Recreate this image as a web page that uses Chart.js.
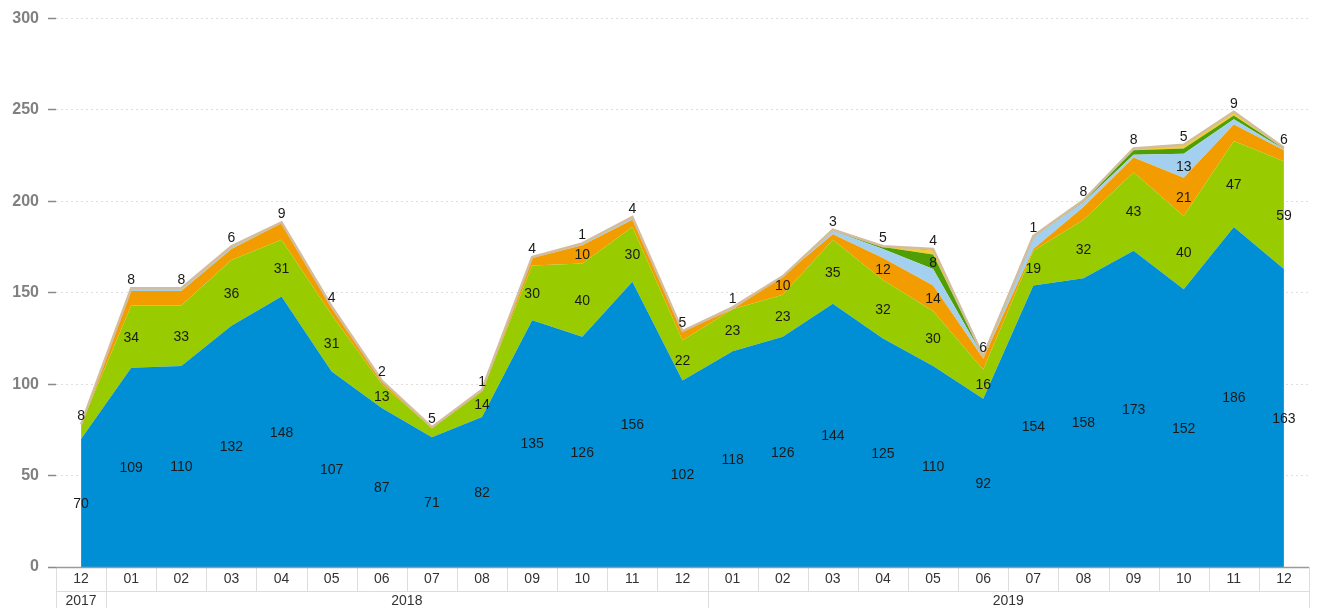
<!DOCTYPE html>
<html>
<head>
<meta charset="utf-8">
<script src="https://cdn.jsdelivr.net/npm/chart.js@4.4.1/dist/chart.umd.min.js"></script>
<style>
html,body{margin:0;padding:0;background:#fff;}
#wrap{width:1319px;height:608px;position:relative;}
</style>
</head>
<body>
<div id="wrap"><canvas id="c"></canvas></div>
<script>
const categories = ['2017-12','2018-01','2018-02','2018-03','2018-04','2018-05','2018-06','2018-07','2018-08','2018-09','2018-10','2018-11','2018-12','2019-01','2019-02','2019-03','2019-04','2019-05','2019-06','2019-07','2019-08','2019-09','2019-10','2019-11','2019-12'];

const seriesBlue      = [70,109,110,132,148,107,87,71,82,135,126,156,102,118,126,144,125,110,92,154,158,173,152,186,163];
const seriesGreen     = [8,34,33,36,31,31,13,5,14,30,40,30,22,23,23,35,32,30,16,19,32,43,40,47,59];
const seriesOrange    = [0,8,8,6,9,4,2,0.5,1,4,10,4,5,0,10,3,12,14,6,1,7,8,21,9,6];
const seriesLightBlue = [0,1.5,1.5,1.5,0.5,0.5,0,0,0,0.5,1,1.5,0,1,0,2,5,9,1,6.5,2.5,1.5,13,3,0.5];
const seriesDarkGreen = [0,0,0,0,0,0,0,0,0,0,0,0,0,0,0,0.5,1,8,0.3,0.5,0.8,2.5,3,2,0.5];
const seriesYellow    = [0,0,0,0,0,0,0,0,0,0,0,0,0,0,0,0,0.5,2,0,0,0.3,1,1.5,1.5,0.3];
const seriesRed       = [0,0,0,0,0,0,0,0,0,0,0,0,0,0,0,0,0,1,0,0,0,0,0.5,0.5,0];

const topLabels = [8,8,8,6,9,4,2,5,1,4,1,4,5,1,null,3,5,4,6,1,8,8,5,9,6];

const yTicks = {min:0, max:300, step:50};

const monthLabels = categories.map(c => c.slice(5));
const yearOf = categories.map(c => c.slice(0,4));

const LABEL_FONT = '14px "Liberation Sans", Arial, sans-serif';

const segLabels = {
  id: 'segLabels',
  afterDatasetsDraw(chart) {
    const ctx = chart.ctx, ys = chart.scales.y;
    ctx.save();
    ctx.font = LABEL_FONT;
    ctx.fillStyle = '#1a1a1a';
    ctx.textAlign = 'center';
    ctx.textBaseline = 'middle';
    for (let j = 0; j < categories.length; j++) {
      let base = 0;
      const x = chart.getDatasetMeta(0).data[j].x;
      chart.data.datasets.forEach((ds, i) => {
        const v = ds.data[j];
        if (ds.labelMin !== undefined && v >= ds.labelMin && v > 0) {
          const yc = (ys.getPixelForValue(base) + ys.getPixelForValue(base + v)) / 2;
          ctx.fillText(String(v), x, yc + 1);
        }
        base += v;
      });
      if (topLabels[j] !== null && topLabels[j] !== undefined) {
        ctx.fillText(String(topLabels[j]), x, ys.getPixelForValue(base) - 8);
      }
    }
    ctx.restore();
  }
};

const bottomAxis = {
  id: 'bottomAxis',
  afterDraw(chart) {
    const ctx = chart.ctx, a = chart.chartArea, xs = chart.scales.x;
    const w = xs.getPixelForValue(1) - xs.getPixelForValue(0);
    const row1 = a.bottom + 24;
    const row2 = chart.height;
    const edge = k => Math.round(xs.getPixelForValue(k) - w / 2) + 0.5;
    const line = (x1, y1, x2, y2) => { ctx.beginPath(); ctx.moveTo(x1, y1); ctx.lineTo(x2, y2); ctx.stroke(); };
    ctx.save();
    ctx.strokeStyle = '#dddddd';
    ctx.lineWidth = 1;
    for (let k = 0; k <= categories.length; k++) {
      line(edge(k), a.bottom, edge(k), row1);
    }
    line(a.left, row1 + 0.5, a.right, row1 + 0.5);
    // year groups
    const groups = [];
    yearOf.forEach((y, i) => {
      if (!groups.length || groups[groups.length - 1].year !== y) groups.push({year: y, from: i, to: i});
      else groups[groups.length - 1].to = i;
    });
    groups.forEach(g => {
      line(edge(g.from), row1, edge(g.from), row2);
      line(edge(g.to + 1), row1, edge(g.to + 1), row2);
    });
    // axis line
    ctx.strokeStyle = '#9a9a9a';
    ctx.lineWidth = 1.5;
    line(a.left, a.bottom + 0.5, a.right, a.bottom + 0.5);
    // labels
    ctx.fillStyle = '#333333';
    ctx.font = '14px "Liberation Sans", Arial, sans-serif';
    ctx.textAlign = 'center';
    ctx.textBaseline = 'middle';
    monthLabels.forEach((m, i) => ctx.fillText(m, xs.getPixelForValue(i), a.bottom + 12.5));
    groups.forEach(g => {
      const cx = (xs.getPixelForValue(g.from) + xs.getPixelForValue(g.to)) / 2;
      ctx.fillText(g.year, cx, row1 + 10.5);
    });
    ctx.restore();
  }
};

const mk = (label, data, color, labelMin, extra) => Object.assign({
  label, data,
  backgroundColor: color,
  borderColor: color,
  borderWidth: 0,
  pointRadius: 0,
  pointHoverRadius: 0,
  tension: 0,
  fill: '-1',
  labelMin
}, extra || {});

new Chart(document.getElementById('c'), {
  type: 'line',
  data: {
    labels: categories,
    datasets: [
      mk('A', seriesBlue, '#008fd5', 0, {fill: 'origin'}),
      mk('B', seriesGreen, '#99cc00', 10),
      mk('C', seriesOrange, '#f39c00', 10),
      mk('D', seriesLightBlue, '#a3d0ee', 10),
      mk('E', seriesDarkGreen, '#4f9e05', 8),
      mk('F', seriesYellow, '#f4cf2c', undefined),
      mk('G', seriesRed, '#e0735a', undefined, {borderColor: '#d3bd9d', borderWidth: 2.5})
    ]
  },
  options: {
    responsive: true,
    maintainAspectRatio: false,
    animation: false,
    layout: {padding: {left: 0, right: 10, top: 18, bottom: 41}},
    plugins: {
      legend: {display: false},
      tooltip: {enabled: false},
      filler: {drawTime: 'beforeDatasetsDraw'}
    },
    scales: {
      x: {
        type: 'category',
        display: false,
        offset: true
      },
      y: {
        stacked: true,
        min: yTicks.min,
        max: yTicks.max,
        afterFit(scale) { scale.width = 56; },
        ticks: {
          stepSize: yTicks.step,
          padding: 9,
          color: '#808080',
          font: {family: '"Liberation Sans", Arial, sans-serif', size: 16, weight: 'bold'}
        },
        grid: {
          color: '#dedede',
          lineWidth: 1,
          tickLength: 8,
          tickColor: '#8a8a8a',
          tickWidth: 1.5,
          tickBorderDash: []
        },
        border: {display: false, dash: [2, 3]}
      }
    }
  },
  plugins: [segLabels, bottomAxis]
});
</script>
</body>
</html>
